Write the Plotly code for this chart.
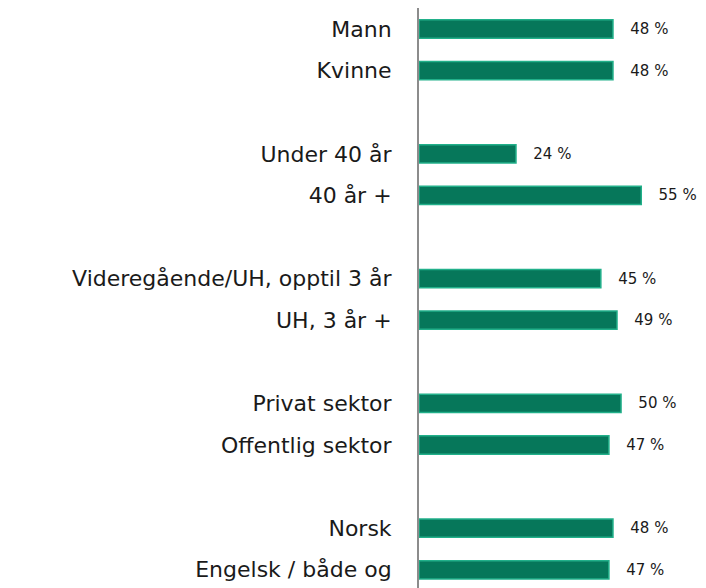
import plotly.graph_objects as go

categories = ["Mann", "Kvinne", " ", "Under 40 år", "40 år +", "  ",
              "Videregående/UH, opptil 3 år", "UH, 3 år +", "   ",
              "Privat sektor", "Offentlig sektor", "    ",
              "Norsk", "Engelsk / både og"]
values = [48, 48, None, 24, 55, None, 45, 49, None, 50, 47, None, 48, 47]
labels = [("   %d %%" % v) if v is not None else "" for v in values]

FONT = "'DejaVu Sans', sans-serif"

fig = go.Figure(go.Bar(
    y=categories, x=values, orientation="h",
    marker=dict(color="#06775a", line=dict(color="#22b08a", width=1.5)),
    width=0.44,
    text=labels, textposition="outside", cliponaxis=False,
    constraintext="none",
    textfont=dict(family=FONT, size=15, color="#1a1a1a"),
))

fig.update_layout(
    width=706, height=588,
    margin=dict(l=411, r=0, t=0, b=0),
    plot_bgcolor="white", paper_bgcolor="white",
    showlegend=False,
)
fig.update_xaxes(range=[0, 73.0], visible=False, showgrid=False, zeroline=False)
fig.update_yaxes(
    type="category", categoryorder="array", categoryarray=categories,
    range=[13.63, -0.505],
    showline=True, linecolor="#8c8c8c", linewidth=2,
    showgrid=False, ticks="", ticklabelstandoff=21,
    tickfont=dict(family=FONT, size=22, color="#1a1a1a"),
)

fig.write_html("out.html")
